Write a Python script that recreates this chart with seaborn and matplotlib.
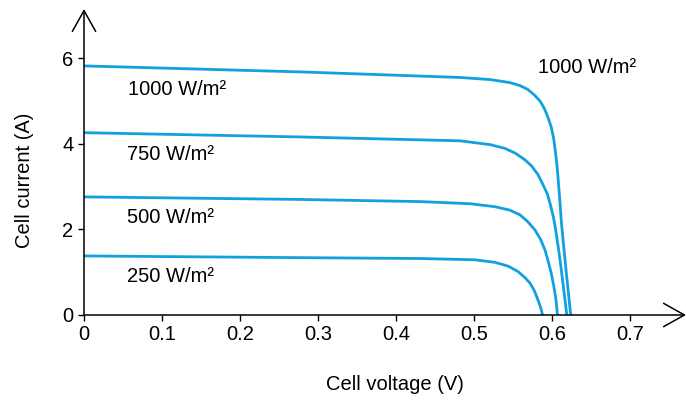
import matplotlib
matplotlib.use("Agg")
import matplotlib.pyplot as plt
import pandas as pd
import seaborn as sns

# I-V curves (voltage in V, current in A)
v_1000 = [0, 0.277, 0.482, 0.521, 0.546, 0.559, 0.569, 0.578, 0.585, 0.590, 0.595, 0.599,
          0.602, 0.604, 0.606, 0.608, 0.610, 0.612, 0.615, 0.618, 0.621, 0.624]
i_1000 = [5.82, 5.68, 5.55, 5.50, 5.43, 5.36, 5.27, 5.13, 4.99, 4.83, 4.61, 4.39,
          4.14, 3.86, 3.57, 3.15, 2.69, 2.17, 1.60, 1.05, 0.52, 0]

v_750 = [0, 0.277, 0.482, 0.521, 0.540, 0.553, 0.565, 0.574, 0.582, 0.588, 0.594, 0.598,
         0.602, 0.605, 0.608, 0.611, 0.615, 0.619]
i_750 = [4.26, 4.16, 4.07, 3.98, 3.89, 3.78, 3.63, 3.48, 3.28, 3.06, 2.83, 2.57,
         2.27, 1.96, 1.59, 1.19, 0.60, 0]

v_500 = [0, 0.277, 0.431, 0.495, 0.527, 0.546, 0.559, 0.569, 0.578, 0.585, 0.591, 0.595,
         0.599, 0.602, 0.605, 0.607]
i_500 = [2.76, 2.70, 2.65, 2.60, 2.53, 2.45, 2.34, 2.18, 1.99, 1.78, 1.52, 1.26,
         0.98, 0.70, 0.37, 0]

v_250 = [0, 0.277, 0.431, 0.501, 0.527, 0.544, 0.556, 0.565, 0.572, 0.577, 0.581, 0.585, 0.588]
i_250 = [1.38, 1.34, 1.32, 1.29, 1.23, 1.14, 1.02, 0.88, 0.74, 0.58, 0.40, 0.20, 0]

irradiance = ["1000", "750", "500", "250"]
x_ticks = [0, 0.1, 0.2, 0.3, 0.4, 0.5, 0.6, 0.7]
y_ticks = [0, 2, 4, 6]

curves = {"1000": (v_1000, i_1000), "750": (v_750, i_750),
          "500": (v_500, i_500), "250": (v_250, i_250)}
rows = []
for g in irradiance:
    for v, i in zip(*curves[g]):
        rows.append({"voltage": v, "current": i, "irr": g})
df = pd.DataFrame(rows)

sns.set_theme(style="white")
plt.rcParams["font.family"] = ["Liberation Sans", "DejaVu Sans"]
plt.rcParams["text.color"] = "black"

blue = "#10a2df"
fig = plt.figure(figsize=(6.86, 4.01), dpi=100)
ax = fig.add_axes([84 / 686, 86 / 401, 602 / 686, 306 / 401])

sns.lineplot(data=df, x="voltage", y="current", hue="irr", units="irr", estimator=None,
             palette={g: blue for g in irradiance}, linewidth=2.0, legend=False, ax=ax,
             solid_joinstyle="round")

ax.set_xlim(0, 602 / 780)
ax.set_ylim(0, 306 / 42.8)
ax.set_xticks(x_ticks)
ax.set_xticklabels(["0", "0.1", "0.2", "0.3", "0.4", "0.5", "0.6", "0.7"])
ax.set_yticks(y_ticks)
ax.tick_params(axis="both", direction="out", length=4.5, width=1.0, color="black",
               labelsize=14.5, labelcolor="black", pad=3, bottom=True, left=True)
for s in ax.spines.values():
    s.set_visible(False)
ax.set_xlabel("")
ax.set_ylabel("")

arrow = dict(arrowstyle="->,head_length=0.75,head_width=0.42", color="black", lw=1.1,
             shrinkA=0, shrinkB=0, mutation_scale=20)
ax.annotate("", xy=(1, 0), xytext=(0, 0), xycoords="axes fraction",
            textcoords="axes fraction", arrowprops=arrow, annotation_clip=False)
ax.annotate("", xy=(0, 1), xytext=(0, 0), xycoords="axes fraction",
            textcoords="axes fraction", arrowprops=arrow, annotation_clip=False)

lab = dict(fontsize=14.5, color="black", va="baseline", ha="left")
ax.text(0.056, 5.14, "1000 W/m²", **lab)
ax.text(0.055, 3.62, "750 W/m²", **lab)
ax.text(0.055, 2.15, "500 W/m²", **lab)
ax.text(0.055, 0.77, "250 W/m²", **lab)
ax.text(0.582, 5.65, "1000 W/m²", **lab)

fig.text(395 / 686, 1 - 385 / 401, "Cell voltage (V)", fontsize=14.5, color="black",
         ha="center", va="center")
fig.text(24 / 686, 1 - 180 / 401, "Cell current (A)", fontsize=14.5, color="black",
         ha="center", va="center", rotation=90)

fig.savefig("out.png", dpi=100)
